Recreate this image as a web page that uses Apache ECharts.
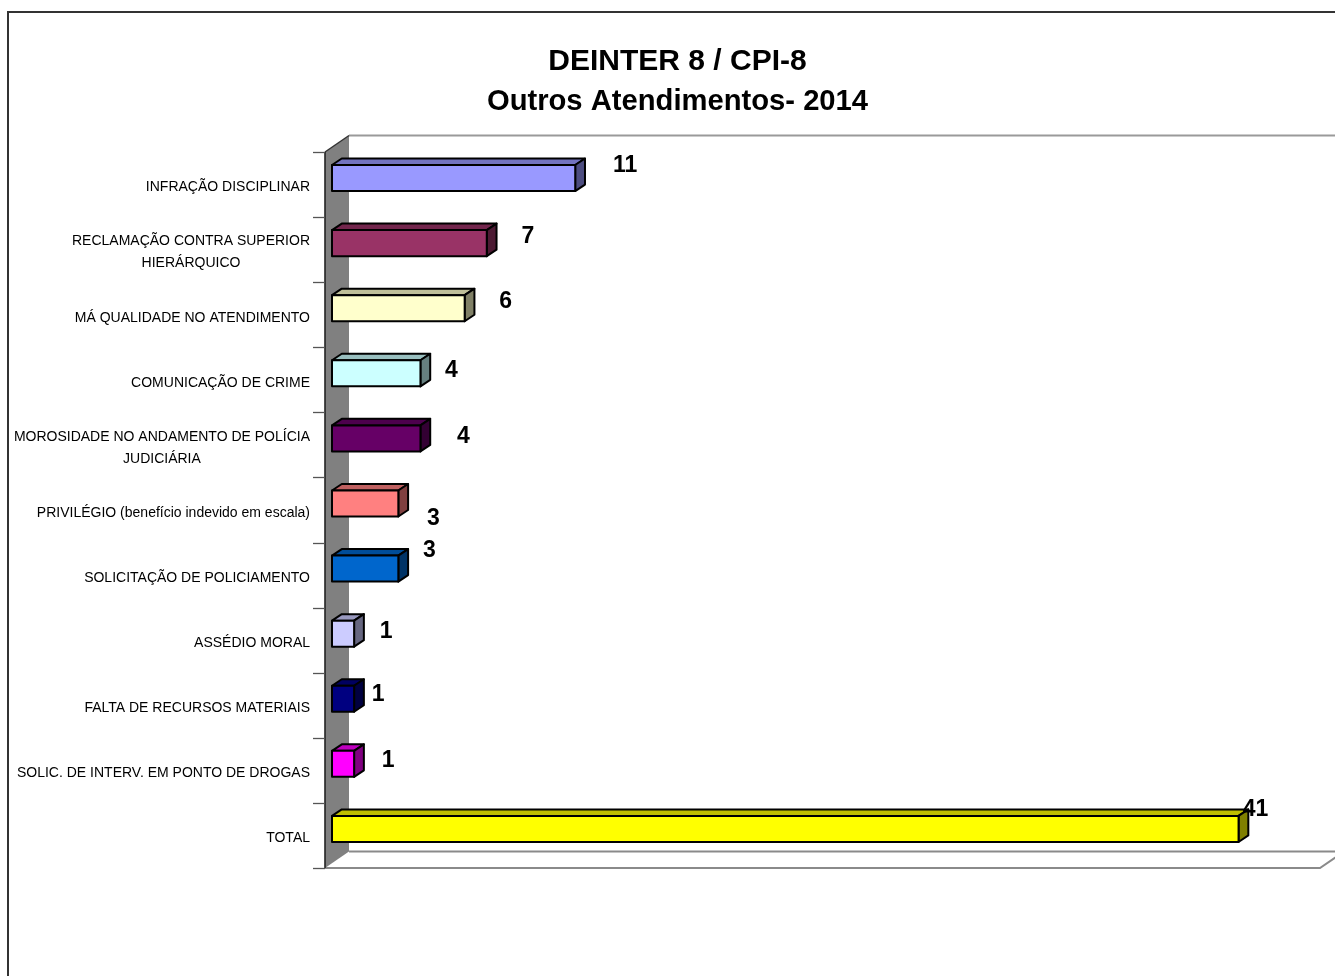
<!DOCTYPE html>
<html>
<head>
<meta charset="utf-8">
<script src="https://cdn.jsdelivr.net/npm/echarts@6/dist/echarts.min.js"></script>
<style>html,body{margin:0;padding:0;background:#fff}#c{width:1335px;height:976px}</style>
</head>
<body>
<div id="c"></div>
<script>
// ---- data ----
const categories = [
  'INFRAÇÃO DISCIPLINAR',
  'RECLAMAÇÃO CONTRA SUPERIOR\nHIERÁRQUICO',
  'MÁ QUALIDADE NO ATENDIMENTO',
  'COMUNICAÇÃO DE CRIME',
  'MOROSIDADE NO ANDAMENTO DE POLÍCIA\nJUDICIÁRIA',
  'PRIVILÉGIO (benefício indevido em escala)',
  'SOLICITAÇÃO DE POLICIAMENTO',
  'ASSÉDIO MORAL',
  'FALTA DE RECURSOS MATERIAIS',
  'SOLIC. DE INTERV. EM PONTO DE DROGAS',
  'TOTAL'
];
const values = [11, 7, 6, 4, 4, 3, 3, 1, 1, 1, 41];
const barColors = ['#9999FF','#993366','#FFFFCC','#CCFFFF','#660066','#FF8080','#0066CC','#CCCCFF','#000080','#FF00FF','#FFFF00'];
const titleLines = ['DEINTER 8 / CPI-8', 'Outros Atendimentos- 2014'];

// ---- layout / style (not data) ----
const FONT = '"Liberation Sans", Arial, Helvetica, sans-serif';
const labelNudge = [[50,-18.5],[41,-12.6],[41,-12.7],[31,-9.3],[43,-8],[35,9],[31,-24],[32,-9],[24,-11],[34,-10],[17,-25.5]];
const WALL = {dx: 24, dy: -16.5, gap: 7, tick: 12};

function shade(hex, f) {
  const n = parseInt(hex.slice(1), 16);
  const r = Math.round(((n >> 16) & 255) * f), g = Math.round(((n >> 8) & 255) * f), b = Math.round((n & 255) * f);
  return 'rgb(' + r + ',' + g + ',' + b + ')';
}

function renderWalls(params, api) {
  const cs = params.coordSys;
  const fx = cs.x - WALL.gap, top = cs.y, bottom = cs.y + cs.height, right = cs.x + cs.width - WALL.gap;
  const dx = WALL.dx, dy = WALL.dy;
  const n = categories.length;
  const children = [
    {type: 'polygon', shape: {points: [[fx, top], [fx + dx, top + dy], [fx + dx, bottom + dy], [fx, bottom]]},
      style: {fill: '#808080', stroke: null}},
    {type: 'polyline', shape: {points: [[fx + dx, top + dy], [right + dx + 40, top + dy]]},
      style: {stroke: '#9a9a9a', lineWidth: 2, fill: null}},
    {type: 'polyline', shape: {points: [[fx, top], [fx + dx, top + dy]]},
      style: {stroke: '#333', lineWidth: 1.5, fill: null}},
    {type: 'polyline', shape: {points: [[fx + dx, bottom + dy], [right + dx, bottom + dy]]},
      style: {stroke: '#8a8a8a', lineWidth: 2, fill: null}},
    {type: 'polyline', shape: {points: [[fx, bottom], [right, bottom], [right + dx, bottom + dy]]},
      style: {stroke: '#8a8a8a', lineWidth: 2, fill: null}},
    {type: 'line', shape: {x1: fx, y1: top, x2: fx, y2: bottom},
      style: {stroke: '#222', lineWidth: 1.6}}
  ];
  for (let k = 0; k <= n; k++) {
    const y = Math.round(top + k * cs.height / n) + 0.5;
    children.push({type: 'line', shape: {x1: fx - WALL.tick, y1: y, x2: fx, y2: y},
      style: {stroke: '#555', lineWidth: 1.3}});
  }
  return {type: 'group', children: children};
}

function renderBar(params, api) {
  const v = api.value(0), i = api.value(1);
  const p0 = api.coord([0, i]), p1 = api.coord([v, i]);
  const band = api.size([0, 1])[1];
  const yc = p0[1];
  const ty = yc - 0.3 * band, by = yc + 0.1 * band;
  const x0 = p0[0], x1 = p1[0];
  const dx = band * 0.15, dy = -band * 0.1;
  const col = barColors[params.dataIndex];
  const edge = {stroke: '#000', lineWidth: 2, lineJoin: 'round'};
  const nud = labelNudge[params.dataIndex];
  return {
    type: 'group',
    children: [
      {type: 'polygon', shape: {points: [[x0, ty], [x0 + dx, ty + dy], [x1 + dx, ty + dy], [x1, ty]]},
        style: Object.assign({fill: shade(col, 0.75)}, edge)},
      {type: 'polygon', shape: {points: [[x1, ty], [x1 + dx, ty + dy], [x1 + dx, by + dy], [x1, by]]},
        style: Object.assign({fill: shade(col, 0.5)}, edge)},
      {type: 'rect', shape: {x: x0, y: ty, width: x1 - x0, height: by - ty},
        style: Object.assign({fill: col}, edge)},
      {type: 'text', x: x1 + nud[0], y: yc + nud[1],
        style: {text: String(v), font: 'bold 23px ' + FONT, fill: '#000',
          align: 'center', verticalAlign: 'middle', textAlign: 'center', textVerticalAlign: 'middle'}}
    ]
  };
}

const chart = echarts.init(document.getElementById('c'), null, {renderer: 'canvas'});
chart.setOption({
  animation: false,
  backgroundColor: '#fff',
  graphic: [
    {type: 'rect', shape: {x: 8, y: 12, width: 1400, height: 1000},
      style: {fill: 'none', stroke: '#333', lineWidth: 2}, z: -10},
    {type: 'text', x: 677.5, y: 62,
      style: {text: titleLines[0], font: 'bold 30px ' + FONT, fill: '#000',
        align: 'center', verticalAlign: 'middle', textAlign: 'center', textVerticalAlign: 'middle'}},
    {type: 'text', x: 677.5, y: 102,
      style: {text: titleLines[1], font: 'bold 29.2px ' + FONT, fill: '#000',
        align: 'center', verticalAlign: 'middle', textAlign: 'center', textVerticalAlign: 'middle'}}
  ],
  grid: {left: 332, top: 152, width: 995, height: 716, containLabel: false, outerBoundsMode: 'none'},
  xAxis: {type: 'value', min: 0, max: 45, show: false, splitLine: {show: false}},
  yAxis: {
    type: 'category', data: categories, inverse: true, offset: WALL.gap, z: 10,
    axisLine: {show: false},
    axisTick: {show: false},
    axisLabel: {
      margin: 15, align: 'right', color: '#000', fontFamily: FONT, fontSize: 14, lineHeight: 22,
      padding: [6, 0, 0, 0],
      formatter: function (s) { return s.split('\n').map(function (t) { return '{c|' + t + '}'; }).join('\n'); },
      rich: {c: {align: 'center', fontFamily: FONT, fontSize: 14, lineHeight: 22, color: '#000'}}
    }
  },
  series: [
    {type: 'custom', z: 1, clip: false, silent: true, renderItem: renderWalls, data: [[0, 0]]},
    {type: 'custom', z: 2, clip: false, renderItem: renderBar,
      data: values.map(function (v, i) { return [v, i]; })}
  ]
});
</script>
</body>
</html>
